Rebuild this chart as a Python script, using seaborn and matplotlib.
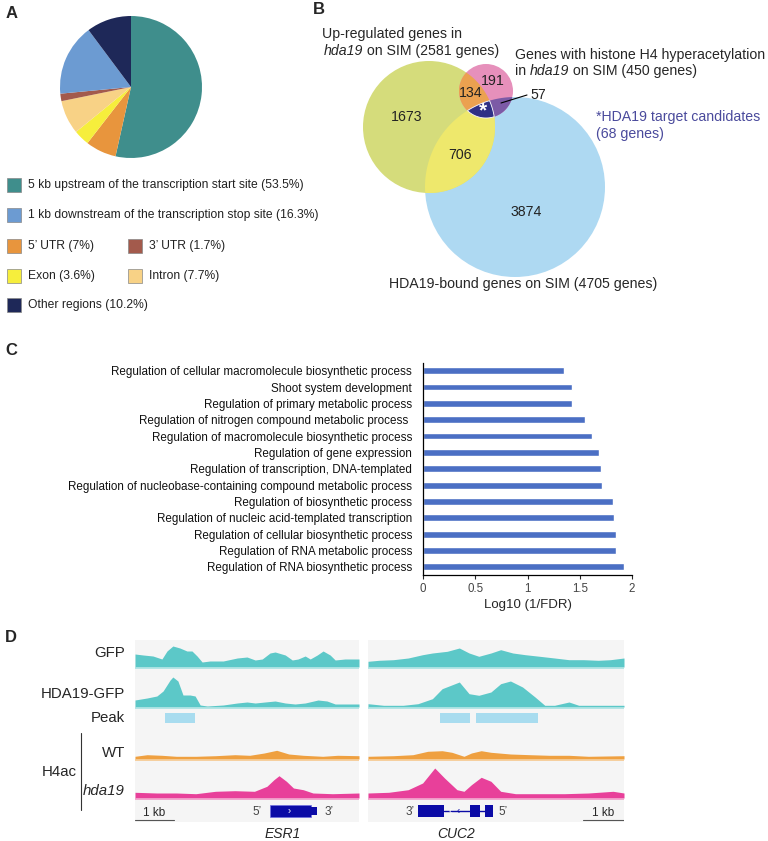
import numpy as np
import pandas as pd
import seaborn as sns
import matplotlib.pyplot as plt
from matplotlib.patches import Circle, Rectangle, Polygon

# ==========================================
# 1. DATA
# ==========================================
# A: peak distribution, in clockwise pie order
region_labels = ['5 kb upstream of the transcription start site', "5’ UTR", 'Exon',
                 'Intron', "3’ UTR", '1 kb downstream of the transcription stop site',
                 'Other regions']
region_pct = [53.5, 7, 3.6, 7.7, 1.7, 16.3, 10.2]
region_colors = ['#3F8E8C', '#E8953D', '#F6EE3C', '#F8D286', '#A35A4C', '#6C9BD2', '#1E2858']

# B: venn counts
venn_counts = {'up': 1673, 'up_h4': 134, 'h4': 191, 'h4_bound': 57, 'up_bound': 706,
               'bound': 3874}

# C: GO terms
go_terms = ['Regulation of cellular macromolecule biosynthetic process',
            'Shoot system development',
            'Regulation of primary metabolic process',
            'Regulation of nitrogen compound metabolic process ',
            'Regulation of macromolecule biosynthetic process',
            'Regulation of gene expression',
            'Regulation of transcription, DNA-templated',
            'Regulation of nucleobase-containing compound metabolic process',
            'Regulation of biosynthetic process',
            'Regulation of nucleic acid-templated transcription',
            'Regulation of cellular biosynthetic process',
            'Regulation of RNA metabolic process',
            'Regulation of RNA biosynthetic process']
go_vals = [1.35, 1.43, 1.43, 1.55, 1.62, 1.68, 1.70, 1.71, 1.82, 1.83, 1.845, 1.845, 1.92]

# D: coverage tracks (position in kb, height in px of track)
esr1_gfp_kb = [0, .21, .46, .69, .82, .97, 1.15, 1.33, 1.46, 1.59, 1.72, 1.92, 2.26, 2.62, 2.87,
               3.08, 3.26, 3.46, 3.59, 3.85, 4.03, 4.18, 4.36, 4.49, 4.67, 4.82, 5.0, 5.13, 5.38, 5.74]
esr1_gfp = [13, 12, 11, 8, 16, 21, 19, 16, 16, 11, 5, 6, 6, 9, 10,
            7, 8, 14, 15, 12, 7, 8, 11, 8, 12, 16, 12, 7, 8, 8]
esr1_hda_kb = [0, .31, .56, .72, .9, .97, 1.1, 1.23, 1.41, 1.54, 1.67, 1.85, 2.26, 2.62, 2.87,
               3.08, 3.33, 3.59, 3.85, 4.1, 4.36, 4.69, 4.92, 5.13, 5.38, 5.74]
esr1_hda = [7, 9, 11, 16, 27, 30, 26, 12, 12, 11, 2, 1, 2, 4, 5,
            4, 5, 6, 4, 3, 4, 7, 6, 3, 3, 3]
esr1_wt_kb = [0, .31, .69, 1.06, 1.56, 2.06, 2.56, 2.94, 3.31, 3.63, 3.94, 4.31, 4.81, 5.19, 5.74]
esr1_wt = [2.7, 4.3, 3.7, 2.7, 2.7, 3.3, 4.3, 3.7, 6, 8.7, 5, 3.7, 2.7, 3.7, 3.3]
esr1_mut_kb = [0, .56, 1.06, 1.56, 2.06, 2.56, 3.06, 3.38, 3.56, 3.69, 3.88, 4.06, 4.31, 4.56,
               5.06, 5.74]
esr1_mut = [5.7, 5, 5, 4.3, 6.7, 7.3, 6.7, 11.7, 18.3, 22.3, 16.7, 10, 8.3, 5, 4.3, 5]

cuc2_gfp_kb = [0, .28, .65, 1.03, 1.4, 1.65, 2.03, 2.34, 2.59, 2.84, 3.15, 3.4, 3.71, 4.03, 4.4,
               4.78, 5.15, 5.53, 5.9, 6.21, 6.56]
cuc2_gfp = [5.7, 6.7, 7.3, 9, 12.3, 14, 15.7, 19, 14, 10.7, 14, 17.3, 14, 12.3, 10.7,
            9, 7.3, 7.3, 6.7, 7.3, 9]
cuc2_hda_kb = [0, .4, .9, 1.28, 1.65, 1.9, 2.34, 2.59, 2.84, 3.15, 3.4, 3.65, 3.96, 4.28, 4.53,
               4.78, 5.15, 5.4, 5.9, 6.56]
cuc2_hda = [3.3, 1.7, 1.7, 3.3, 8.3, 18.3, 25, 13.3, 11.7, 15, 23.3, 26, 20, 10, 1.7,
            1.7, 5, 1.7, 1.7, 1.7]
cuc2_wt_kb = [0, .65, 1.15, 1.53, 1.9, 2.15, 2.46, 2.65, 2.9, 3.15, 3.65, 4.15, 4.65, 5.15,
              5.65, 6.56]
cuc2_wt = [2.7, 3.3, 4.3, 7.7, 8.3, 6.7, 2.7, 6, 8.3, 6.7, 5, 4.3, 3.7, 3.7, 2.7, 3.3]
cuc2_mut_kb = [0, .53, 1.03, 1.4, 1.71, 1.96, 2.28, 2.46, 2.65, 2.9, 3.15, 3.4, 3.78, 4.4,
               5.03, 5.65, 6.28, 6.56]
cuc2_mut = [5, 5.7, 8.3, 15, 30, 20, 8.3, 6.7, 13.3, 20.7, 16.7, 6.7, 4.3, 4.3, 4.3, 5, 6.7, 5]

esr1_peaks = [(0.77, 1.54)]
cuc2_peaks = [(1.85, 2.62), (2.77, 4.36)]
esr1_exons = [(3.46, 4.51)]
esr1_utr = [(4.51, 4.67)]
cuc2_exons = [(1.29, 1.96), (2.61, 2.88), (3.0, 3.2)]
window_kb = [5.74, 6.56]

# ==========================================
# 2. FIGURE SETUP
# ==========================================
sns.set_theme(style='white')
plt.rcParams['font.family'] = ['Liberation Sans', 'DejaVu Sans']

W, H = 768, 841
fig = plt.figure(figsize=(W / 100, H / 100), dpi=100)


def fbox(x, y, w, h):
    """pixel box (top-left origin) -> figure fraction"""
    return [x / W, 1 - (y + h) / H, w / W, h / H]


ov = fig.add_axes([0, 0, 1, 1])
ov.set_xlim(0, W)
ov.set_ylim(H, 0)
ov.axis('off')


def rich(x, y, parts, **kw):
    """texto en trozos (normal / cursiva) pegados uno tras otro"""
    prev = None
    for txt, st in parts:
        if prev is None:
            prev = ov.text(x, y, txt, style=st, ha='left', va='bottom', **kw)
        else:
            prev = ov.annotate(txt, xy=(1, 0), xycoords=prev, style=st, ha='left',
                               va='bottom', **kw)
    return prev


for lab, (x, y) in zip('ABCD', [(6, 13), (313, 9), (5, 350), (5, 637)]):
    ov.text(x, y, lab, fontsize=12, fontweight='bold', va='center', ha='left')

# ==========================================
# 3. PANEL A - PIE
# ==========================================
axa = fig.add_axes(fbox(60, 16, 142, 142))
axa.pie(region_pct, colors=region_colors, startangle=90, counterclock=False,
        wedgeprops=dict(linewidth=0))
axa.set_xlim(-1, 1)
axa.set_ylim(-1, 1)

leg_slots = {0: (7, 185), 5: (7, 215), 1: (7, 246), 4: (128, 246), 2: (7, 276),
             3: (128, 276), 6: (7, 305)}
for i, (x, y) in leg_slots.items():
    ov.add_patch(Rectangle((x, y - 7), 14, 14, facecolor=region_colors[i],
                           edgecolor='#888888', lw=0.5))
    ov.text(x + 21, y, f'{region_labels[i]} ({region_pct[i]:g}%)', fontsize=8.7,
            va='center', ha='left', color='#222222')

# ==========================================
# 4. PANEL B - VENN
# ==========================================
c_up, r_up = (429, 127), 66
c_h4, r_h4 = (486, 91), 27
c_bd, r_bd = (515, 187), 90


def circle_pts(c, r, n=720):
    t = np.linspace(0, 2 * np.pi, n, endpoint=False)
    return np.c_[c[0] + r * np.cos(t), c[1] + r * np.sin(t)]


def overlap(circles):
    pts = []
    for i, (c, r) in enumerate(circles):
        p = circle_pts(c, r)
        m = np.ones(len(p), bool)
        for j, (c2, r2) in enumerate(circles):
            if j != i:
                m &= (p[:, 0] - c2[0]) ** 2 + (p[:, 1] - c2[1]) ** 2 <= r2 ** 2
        pts.append(p[m])
    pts = np.vstack(pts)
    ctr = pts.mean(0)
    return pts[np.argsort(np.arctan2(pts[:, 1] - ctr[1], pts[:, 0] - ctr[0]))]


ov.add_patch(Circle(c_bd, r_bd, color='#AED9F2', lw=0))
ov.add_patch(Circle(c_up, r_up, color='#D5DC7B', lw=0))
ov.add_patch(Circle(c_h4, r_h4, color='#E690BB', lw=0))
ov.add_patch(Polygon(overlap([(c_up, r_up), (c_bd, r_bd)]), color='#EEE86C', lw=0))
ov.add_patch(Polygon(overlap([(c_up, r_up), (c_h4, r_h4)]), color='#EBA150', lw=0))
ov.add_patch(Polygon(overlap([(c_h4, r_h4), (c_bd, r_bd)]), color='#7C5AA6', lw=0))
ov.add_patch(Polygon(overlap([(c_up, r_up), (c_h4, r_h4), (c_bd, r_bd)]),
                     facecolor='#2F3085', edgecolor='white', lw=0.6))

num_pos = {'up': (407, 117), 'up_h4': (471, 93), 'h4': (493, 81), 'up_bound': (460, 155),
           'bound': (526, 212), 'h4_bound': (538, 95)}
for k, (x, y) in num_pos.items():
    ov.text(x, y, str(venn_counts[k]), fontsize=10.2, ha='center', va='center',
            color='#222222')
ov.text(483, 111, '*', fontsize=15, ha='center', va='center', color='white',
        fontweight='bold')
ov.plot([501, 527], [103, 95], color='black', lw=0.8)

vfs = 10.2
rich(322, 41, [('Up-regulated genes in', 'normal')], fontsize=vfs)
rich(324, 58, [('hda19', 'italic'), (' on SIM (2581 genes)', 'normal')], fontsize=vfs)
rich(515, 62, [('Genes with histone H4 hyperacetylation', 'normal')], fontsize=vfs)
rich(515, 78, [('in ', 'normal'), ('hda19', 'italic'), (' on SIM (450 genes)', 'normal')],
     fontsize=vfs)
rich(596, 124, [('*HDA19 target candidates', 'normal')], fontsize=vfs, color='#4A4A9C')
rich(596, 141, [('(68 genes)', 'normal')], fontsize=vfs, color='#4A4A9C')
rich(389, 291, [('HDA19-bound genes on SIM (4705 genes)', 'normal')], fontsize=vfs)

# ==========================================
# 5. PANEL C - GO BARPLOT
# ==========================================
df_go = pd.DataFrame({'term': go_terms, 'val': go_vals})
axc = fig.add_axes(fbox(423, 362.5, 209, 212.5))
sns.barplot(data=df_go, x='val', y='term', color='#4B6FC4', saturation=1, width=0.42, ax=axc)
axc.set_xlim(0, 2)
axc.set_xticks([0, 0.5, 1, 1.5, 2])
axc.set_xticklabels(['0', '0.5', '1', '1.5', '2'], fontsize=8.3, color='#444444')
axc.set_yticks(range(len(go_terms)))
axc.set_yticklabels(go_terms, fontsize=8.4, color='#111111')
axc.set_ylabel('')
axc.set_xlabel('Log10 (1/FDR)', fontsize=9.5, labelpad=3)
axc.tick_params(axis='y', length=0, pad=8)
axc.tick_params(axis='x', length=3, width=0.8, direction='out', pad=3, bottom=True)
sns.despine(ax=axc)
for s in ['left', 'bottom']:
    axc.spines[s].set_color('black')
    axc.spines[s].set_linewidth(0.9)

# ==========================================
# 6. PANEL D - GENOME TRACKS
# ==========================================
track_base = {'gfp': 27, 'hda': 67, 'wt': 119, 'mut': 158}
track_col = {'gfp': '#5CC8C8', 'hda': '#5CC8C8', 'wt': '#EFA040', 'mut': '#E8409A'}
base_col = {'gfp': '#A9E2E2', 'hda': '#A9E2E2', 'wt': '#F5C88E', 'mut': '#F19AC8'}

windows = [
    dict(box=(135, 224), data={'gfp': (esr1_gfp_kb, esr1_gfp), 'hda': (esr1_hda_kb, esr1_hda),
                               'wt': (esr1_wt_kb, esr1_wt), 'mut': (esr1_mut_kb, esr1_mut)},
         peaks=esr1_peaks),
    dict(box=(368, 256), data={'gfp': (cuc2_gfp_kb, cuc2_gfp), 'hda': (cuc2_hda_kb, cuc2_hda),
                               'wt': (cuc2_wt_kb, cuc2_wt), 'mut': (cuc2_mut_kb, cuc2_mut)},
         peaks=cuc2_peaks),
]
axes_d = []
for w, win in enumerate(windows):
    x0, wd = win['box']
    ax = fig.add_axes(fbox(x0, 640, wd, 182))
    ax.set_xlim(0, window_kb[w])
    ax.set_ylim(182, 0)
    ax.axis('off')
    ax.add_patch(Rectangle((0, 0), window_kb[w], 182, facecolor='#F5F5F5', lw=0, zorder=0))
    for k, (xs, hs) in win['data'].items():
        b = track_base[k]
        ax.fill_between(xs, b, b - np.asarray(hs), color=track_col[k], lw=0, zorder=2)
        ax.plot([0, window_kb[w]], [b + 0.5, b + 0.5], color=base_col[k], lw=1.2, zorder=2)
    for a, b in win['peaks']:
        ax.add_patch(Rectangle((a, 73), b - a, 10, facecolor='#A8DCEF', lw=0, zorder=2))
    axes_d.append(ax)

gene_col = '#0B0BA6'
ax = axes_d[0]
for a, b in esr1_exons:
    ax.add_patch(Rectangle((a, 165), b - a, 12, facecolor=gene_col, edgecolor='#6F6FE0',
                           lw=0.5, zorder=3))
for a, b in esr1_utr:
    ax.add_patch(Rectangle((a, 167), b - a, 8, facecolor=gene_col, lw=0, zorder=3))
ax.text(3.95, 171, '›', color='white', fontsize=7, ha='center', va='center', zorder=4)
ax.text(3.13, 172, '5’', fontsize=8.5, ha='center', va='center', color='#444444')
ax.text(4.97, 172, '3’', fontsize=8.5, ha='center', va='center', color='#444444')
ax.plot([0, 1], [179.5, 179.5], color='#555555', lw=0.8)
ax.text(0.5, 173, '1 kb', fontsize=8.5, ha='center', va='center')

ax = axes_d[1]
ax.plot([cuc2_exons[0][1], cuc2_exons[-1][0]], [171, 171], color=gene_col, lw=1, zorder=3)
for a, b in cuc2_exons:
    ax.add_patch(Rectangle((a, 165), b - a, 12, facecolor=gene_col, lw=0, zorder=3))
ax.text(2.1, 171, '‹', color='white', fontsize=7, ha='center', va='center', zorder=4)
ax.text(2.3, 171, '‹', color=gene_col, fontsize=7, ha='center', va='center', zorder=4)
ax.text(1.09, 172, '3’', fontsize=8.5, ha='center', va='center', color='#444444')
ax.text(3.46, 172, '5’', fontsize=8.5, ha='center', va='center', color='#444444')
ax.plot([window_kb[1] - 1.05, window_kb[1]], [179.5, 179.5], color='#555555', lw=0.8)
ax.text(window_kb[1] - 0.53, 173, '1 kb', fontsize=8.5, ha='center', va='center')

dfs = 10.8
for txt, y, st in [('GFP', 653, 'normal'), ('HDA19-GFP', 694, 'normal'), ('Peak', 718, 'normal'),
                   ('WT', 753, 'normal'), ('hda19', 791, 'italic')]:
    ov.text(125, y, txt, fontsize=dfs, ha='right', va='center', style=st)
ov.text(59, 772, 'H4ac', fontsize=dfs, ha='center', va='center')
ov.plot([81, 81], [733, 810], color='#333333', lw=0.8)
ov.text(283, 834, 'ESR1', fontsize=10, ha='center', va='center', style='italic')
ov.text(456, 834, 'CUC2', fontsize=10, ha='center', va='center', style='italic')

fig.savefig('out.png', dpi=100)
